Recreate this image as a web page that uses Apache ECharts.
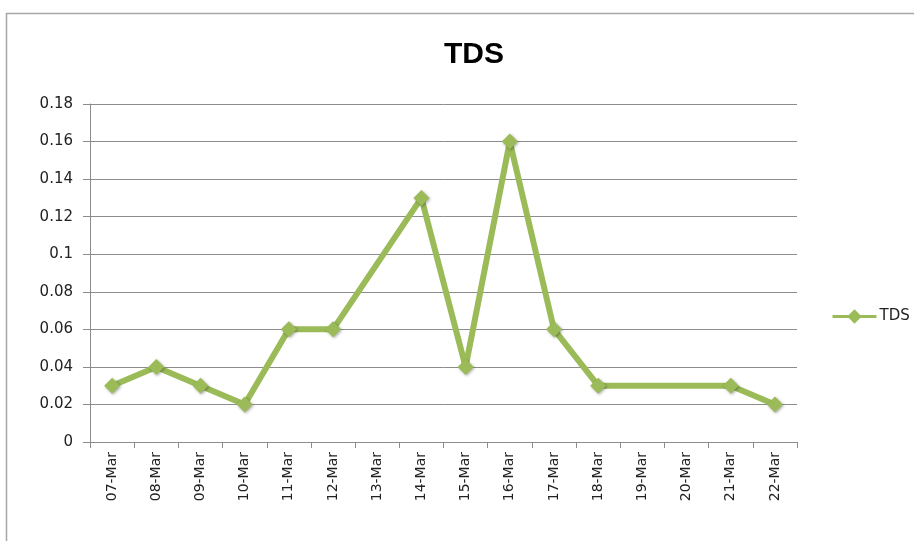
<!DOCTYPE html>
<html>
<head>
<meta charset="utf-8">
<script src="https://cdn.jsdelivr.net/npm/echarts@6/dist/echarts.min.js"></script>
<style>
  html, body { margin: 0; padding: 0; background: #fff; }
  #chart { width: 914px; height: 541px; }
</style>
</head>
<body>
<div id="chart"></div>
<script>
// dates on the x axis
var days = ['07-Mar', '08-Mar', '09-Mar', '10-Mar', '11-Mar', '12-Mar', '13-Mar', '14-Mar',
            '15-Mar', '16-Mar', '17-Mar', '18-Mar', '19-Mar', '20-Mar', '21-Mar', '22-Mar'];
// TDS readings, null = no reading that day
var tds = [0.03, 0.04, 0.03, 0.02, 0.06, 0.06, null, 0.13,
           0.04, 0.16, 0.06, 0.03, null, null, 0.03, 0.02];

var green = '#9bbb59';
var chart = echarts.init(document.getElementById('chart'));

chart.setOption({
  animation: false,
  textStyle: { fontFamily: 'DejaVu Sans, Verdana, sans-serif' },
  title: {
    text: 'TDS',
    left: 469,
    textAlign: 'center',
    top: 35,
    textStyle: { fontSize: 30, fontWeight: 'bold', color: '#000', fontFamily: 'Liberation Sans, Arial, sans-serif' }
  },
  graphic: [{
    type: 'rect',
    shape: { x: 6.5, y: 13.5, width: 1000, height: 1000 },
    style: { fill: 'none', stroke: '#a6a6a6', lineWidth: 1.5 },
    silent: true
  }],
  legend: {
    orient: 'vertical',
    left: 826,
    top: 304,
    itemWidth: 44,
    itemHeight: 18,
    itemGap: 6,
    textStyle: { fontSize: 15, color: '#222', padding: [0, 0, 0, -2] },
    lineStyle: { width: 3 },
    data: ['TDS']
  },
  grid: { left: 90, right: 117, top: 104, bottom: 99 },
  xAxis: {
    type: 'category',
    data: days,
    boundaryGap: true,
    axisLine: { lineStyle: { color: '#8c8c8c', width: 1 } },
    axisTick: { show: true, length: 6, lineStyle: { color: '#8c8c8c' } },
    axisLabel: { rotate: 90, fontSize: 14, color: '#222', margin: 10, interval: 0 },
    splitLine: { show: false }
  },
  yAxis: {
    type: 'value',
    min: 0,
    max: 0.18,
    interval: 0.02,
    axisLine: { show: true, lineStyle: { color: '#8c8c8c', width: 1 } },
    axisTick: { show: true, length: 7, lineStyle: { color: '#8c8c8c' } },
    axisLabel: {
      fontSize: 15, color: '#222', margin: 17,
      formatter: function (v) { return String(parseFloat(v.toFixed(2))); }
    },
    splitLine: { lineStyle: { color: '#8c8c8c', width: 1 } }
  },
  series: [{
    name: 'TDS',
    type: 'line',
    data: tds,
    connectNulls: true,
    symbol: 'diamond',
    symbolSize: 16,
    lineStyle: { color: green, width: 6 },
    itemStyle: {
      color: green,
      shadowColor: 'rgba(0,0,0,0.35)',
      shadowBlur: 3,
      shadowOffsetX: 1,
      shadowOffsetY: 1
    }
  }]
});
</script>
</body>
</html>
